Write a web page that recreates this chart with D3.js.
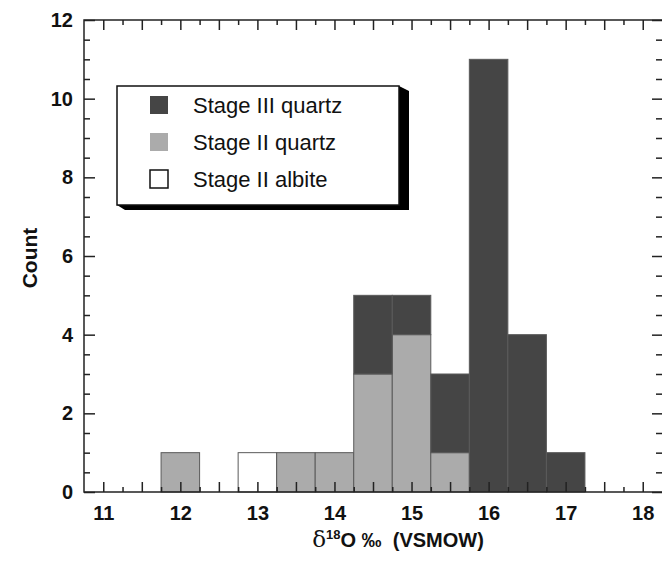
<!DOCTYPE html>
<html>
<head>
<meta charset="utf-8">
<script src="https://cdn.jsdelivr.net/npm/d3@7"></script>
<style>
  body { margin: 0; background: #fff; }
  svg { font-family: "Liberation Sans", Arial, Helvetica, sans-serif; }
  .tick text { font-weight: bold; }
</style>
</head>
<body>
<div id="chart"></div>
<script>
// bin centres (bin width 0.5 permil) and counts per group
const binCenters = [12, 12.5, 13, 13.5, 14, 14.5, 15, 15.5, 16, 16.5, 17];
const stage2Albite = [0, 0, 1, 0, 0, 0, 0, 0, 0, 0, 0];
const stage2Quartz = [1, 0, 0, 1, 1, 3, 4, 1, 0, 0, 0];
const stage3Quartz = [0, 0, 0, 0, 0, 2, 1, 2, 11, 4, 1];
const xTickLabels = [11, 12, 13, 14, 15, 16, 17, 18];
const yTickLabels = [0, 2, 4, 6, 8, 10, 12];

const seriesNames = ["Stage III quartz", "Stage II quartz", "Stage II albite"];
const colors = {"Stage III quartz": "#454545", "Stage II quartz": "#ababab", "Stage II albite": "#ffffff"};

const binWidth = 0.5;

const svg = d3.select("#chart").append("svg")
    .attr("width", 669)
    .attr("height", 562);

const margin = {top: 20, right: 7, bottom: 70, left: 84};
const width = 669 - margin.left - margin.right,
    height = 562 - margin.top - margin.bottom;

const x = d3.scaleLinear().domain([10.75, 18.25]).range([0, width]);
const y = d3.scaleLinear().domain([0, 12]).range([height, 0]);

const g = svg.append("g")
    .attr("transform", `translate(${margin.left},${margin.top})`);

// stacked table: albite and stage II quartz at the base, stage III on top
const table = binCenters.map((c, i) => ({
    center: c,
    "Stage II albite": stage2Albite[i],
    "Stage II quartz": stage2Quartz[i],
    "Stage III quartz": stage3Quartz[i]
}));
const stacked = d3.stack().keys(["Stage II albite", "Stage II quartz", "Stage III quartz"])(table);

g.selectAll(".layer")
    .data(stacked)
    .enter().append("g")
    .attr("class", "layer")
    .attr("fill", d => colors[d.key])
    .selectAll("rect")
    .data(d => d.filter(p => p[1] > p[0]))
    .enter().append("rect")
    .attr("x", d => x(d.data.center - binWidth / 2))
    .attr("width", x(binWidth) - x(0))
    .attr("y", d => y(d[1]))
    .attr("height", d => y(d[0]) - y(d[1]))
    .attr("stroke", "#5a5a5a")
    .attr("stroke-width", 1);

// tick marks, pointing inward on all four sides
const xMajor = d3.range(11, 18.01, 0.5);
const xMinor = d3.range(11.25, 18.1, 0.5);
const yMajor = d3.range(0, 12.01, 2);
const yMinor = d3.range(0, 12.01, 0.5).filter(v => v % 2 !== 0);

function tickAxis(axisFn, scale, values, size) {
    return axisFn(scale).tickValues(values).tickSize(size).tickFormat("");
}

const tickGroups = [
    [d3.axisBottom, x, xMajor, -10, `translate(0,${height})`],
    [d3.axisBottom, x, xMinor, -5, `translate(0,${height})`],
    [d3.axisTop, x, xMajor, -10, "translate(0,0)"],
    [d3.axisTop, x, xMinor, -5, "translate(0,0)"],
    [d3.axisLeft, y, yMajor, -11, "translate(0,0)"],
    [d3.axisLeft, y, yMinor, -6, "translate(0,0)"],
    [d3.axisRight, y, yMajor, -10, `translate(${width},0)`],
    [d3.axisRight, y, yMinor, -6, `translate(${width},0)`]
];
tickGroups.forEach(([fn, sc, vals, size, tr]) => {
    const a = g.append("g")
        .attr("transform", tr)
        .call(tickAxis(fn, sc, vals, size));
    a.select(".domain").remove();
    a.selectAll("line").attr("stroke", "#222").attr("stroke-width", 1.5);
});

// frame (left, top, bottom)
g.append("path")
    .attr("d", `M${width},0H0V${height}H${width}`)
    .attr("fill", "none")
    .attr("stroke", "#222")
    .attr("stroke-width", 1.5);

// tick labels
const xLab = g.append("g")
    .attr("transform", `translate(0,${height})`)
    .call(d3.axisBottom(x).tickValues(xTickLabels).tickSize(0).tickPadding(14).tickFormat(d3.format("d")));
xLab.select(".domain").remove();
xLab.selectAll("text").attr("font-size", 20).attr("fill", "#111");

const yLab = g.append("g")
    .call(d3.axisLeft(y).tickValues(yTickLabels).tickSize(0).tickPadding(11).tickFormat(d3.format("d")));
yLab.select(".domain").remove();
yLab.selectAll("text").attr("font-size", 20).attr("fill", "#111");

// axis titles
const xTitle = svg.append("text")
    .attr("x", 398)
    .attr("y", 547)
    .attr("text-anchor", "middle")
    .attr("font-size", 20)
    .attr("font-weight", "bold")
    .attr("fill", "#111");
xTitle.append("tspan").attr("font-weight", "normal").attr("font-size", 23)
    .attr("font-family", "DejaVu Serif, serif").text("δ");
xTitle.append("tspan").attr("font-size", 13).attr("dy", -8).text("18");
xTitle.append("tspan").attr("dy", 8).text("O \u2030\u00a0\u00a0(VSMOW)");

svg.append("text")
    .attr("transform", "translate(37,258) rotate(-90)")
    .attr("text-anchor", "middle")
    .attr("font-size", 21)
    .attr("font-weight", "bold")
    .attr("fill", "#111")
    .text("Count");

// legend box with drop shadow
const lg = svg.append("g");
const bx0 = 117, by0 = 86, bx1 = 399, by1 = 205, sh = 10;
lg.append("path")
    .attr("d", `M${bx1},${by0}L${bx1 + sh},${by0 + 5}V${by1 + 5}H${bx0 + 8}L${bx0},${by1}Z`)
    .attr("fill", "#000");
lg.append("rect")
    .attr("x", bx0).attr("y", by0)
    .attr("width", bx1 - bx0).attr("height", by1 - by0)
    .attr("fill", "#fff")
    .attr("stroke", "#111")
    .attr("stroke-width", 1.5);

seriesNames.forEach((name, i) => {
    const cy = 105 + i * 37;
    lg.append("rect")
        .attr("x", 150).attr("y", cy - 9)
        .attr("width", 18).attr("height", 18)
        .attr("fill", colors[name])
        .attr("stroke", name === "Stage II albite" ? "#111" : "none")
        .attr("stroke-width", 1.5);
    lg.append("text")
        .attr("x", 193).attr("y", cy + 8)
        .attr("font-size", 22)
        .attr("fill", "#111")
        .text(name);
});
</script>
</body>
</html>
